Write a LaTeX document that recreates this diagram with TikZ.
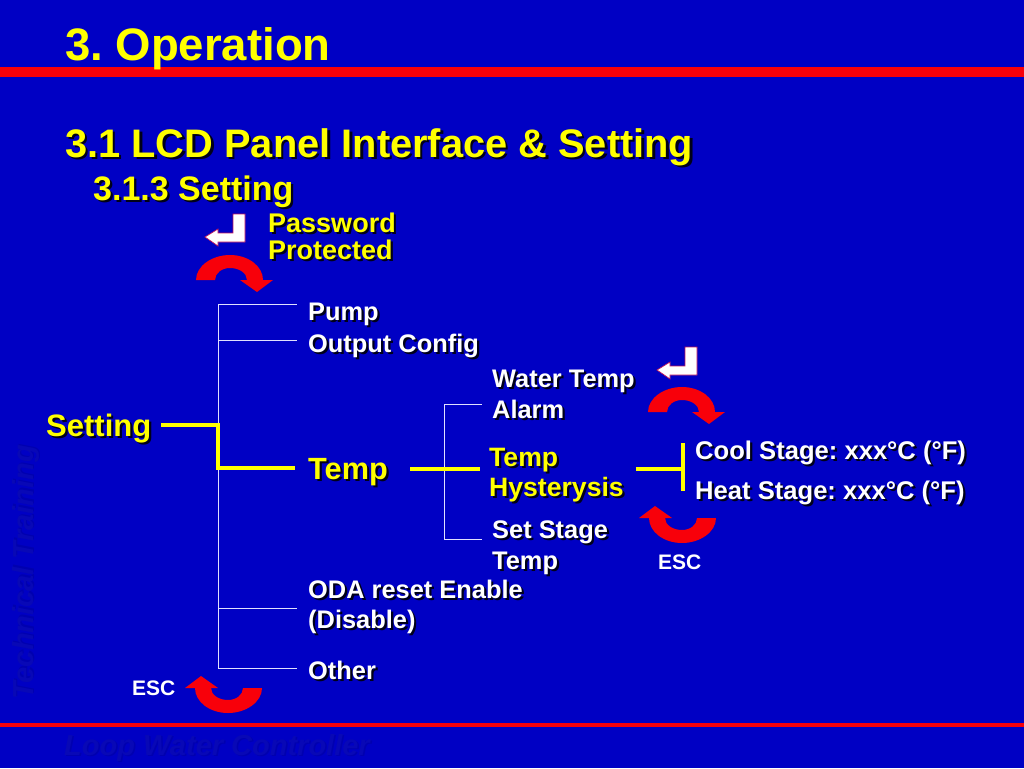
\documentclass[tikz,border=0pt]{standalone}
\usepackage{fontspec}
\setmainfont{Liberation Sans}[BoldFont={Liberation Sans Bold}]
\definecolor{slidebg}{RGB}{0,0,196}
\definecolor{redbar}{RGB}{248,0,10}
\definecolor{ylw}{RGB}{255,255,0}
\definecolor{shdw}{RGB}{0,0,25}
\definecolor{wmk}{RGB}{8,8,182}
\definecolor{wmkd}{RGB}{0,0,176}
\definecolor{retedge}{RGB}{190,20,90}
\newcommand{\shd}[2][2.2pt]{\leavevmode\rlap{\kern#1\raisebox{-#1}{\color{shdw}#2}}#2}
\newcommand{\wm}[1]{\leavevmode\rlap{\kern1.5pt\raisebox{-1.5pt}{\color{wmkd}#1}}#1}
\tikzset{
  txt/.style={anchor=base west,inner sep=0pt,font=\bfseries\fontsize{#1}{#1}\selectfont\frenchspacing},
  wtxt/.style={txt={#1},text=white},
  ytxt/.style={txt={#1},text=ylw},
  wline/.style={draw=white!88!blue,line width=1pt},
  yline/.style={draw=ylw,line width=3.2pt},
  curved/.pic={
    \fill[redbar] (-34,0) .. controls (-34,-14) and (-18,-25) .. (0,-25)
      .. controls (18,-25) and (33,-14) .. (33,0) -- (43,0) -- (27,12) -- (10,0) -- (17,0)
      .. controls (17,-7) and (9,-12) .. (0,-12)
      .. controls (-8,-12) and (-15,-7) .. (-15,0) -- cycle;
  },
  enterarrow/.pic={
    \filldraw[fill=white,draw=retedge,line width=0.7pt] (0,0) -- (-12,0) -- (-12,19) -- (-27,19) -- (-27,15)
      -- (-40,23) -- (-27,32) -- (-27,28) -- (0,28) -- cycle;
  }
}
\begin{document}
\begin{tikzpicture}[x=1pt,y=-1pt]
\fill[slidebg] (0,0) rectangle (1024,768);
\useasboundingbox (0,0) rectangle (1024,768);
\fill[redbar] (0,67) rectangle (1024,77);
\fill[redbar] (0,723) rectangle (1024,727);
% watermarks
\node[rotate=90,anchor=base west,inner sep=0pt,text=wmk,font=\bfseries\itshape\fontsize{29}{29}\selectfont] (wm1) at (33,700) {\wm{Technical Training}};
\node[anchor=base west,inner sep=0pt,text=wmk,font=\bfseries\itshape\fontsize{29}{29}\selectfont] (wm2) at (64,755) {\wm{Loop Water Controller}};
% titles
\node[ytxt=45.5] (t1) at (65,60) {3. Operation};
\node[ytxt=39.8] (t2) at (65,157) {\shd[2.5pt]{3.1 LCD Panel Interface \& Setting}};
\node[ytxt=34] (t3) at (93,200) {\shd{3.1.3 Setting}};
\node[ytxt=27] (pw1) at (268,232) {\shd{Password}};
\node[ytxt=27] (pw2) at (268,259) {\shd{Protected}};
% tree text
\node[ytxt=31] (setting) at (46,436) {\shd{Setting}};
\node[wtxt=25.4] (pump) at (308,320) {\shd{Pump}};
\node[wtxt=25.4] (output) at (308,352) {\shd{Output Config}};
\node[ytxt=30.7] (temp) at (308,479) {\shd{Temp}};
\node[wtxt=25.4] (oda1) at (308,598) {\shd{ODA reset Enable}};
\node[wtxt=25.4] (oda2) at (308,628) {\shd{(Disable)}};
\node[wtxt=25.4] (other) at (308,679) {\shd{Other}};
\node[wtxt=25.4] (water1) at (492,387) {\shd{Water Temp}};
\node[wtxt=25.4] (water2) at (492,418) {\shd{Alarm}};
\node[ytxt=26.6] (hyst1) at (489,466) {\shd{Temp}};
\node[ytxt=26.6] (hyst2) at (489,496) {\shd{Hysterysis}};
\node[wtxt=25.4] (stage1) at (492,538) {\shd{Set Stage}};
\node[wtxt=25.4] (stage2) at (492,569) {\shd{Temp}};
\node[wtxt=25.6] (cool) at (695,459) {\shd{Cool Stage: xxx°C (°F)}};
\node[wtxt=25.6] (heat) at (695,499) {\shd{Heat Stage: xxx°C (°F)}};
\node[wtxt=21] (esc1) at (658,569) {ESC};
\node[wtxt=21] (esc2) at (132,695) {ESC};
% junctions
\coordinate (sa) at (218,304);
\coordinate (sb) at (218,340);
\coordinate (sc) at (218,425);
\coordinate (sd) at (218,468);
\coordinate (se) at (218,608);
\coordinate (sf) at (218,668);
\coordinate (ta) at (444,404);
\coordinate (tb) at (444,469);
\coordinate (tc) at (444,539);
\coordinate (ua) at (683,443);
\coordinate (ub) at (683,469);
\coordinate (uc) at (683,491);
% white tree
\draw[wline] (sa) -- (sf);
\draw[wline] (sa) -- ([xshift=-11pt]pump.west |- sa);
\draw[wline] (sb) -- ([xshift=-11pt]output.west |- sb);
\draw[wline] (se) -- ([xshift=-11pt]oda1.west |- se);
\draw[wline] (sf) -- ([xshift=-11pt]other.west |- sf);
\draw[wline] (ta) -- (tc);
\draw[wline] (ta) -- ([xshift=-10pt]water1.west |- ta);
\draw[wline] (tc) -- ([xshift=-10pt]stage1.west |- tc);
% yellow path
\draw[yline,line join=miter] ([xshift=10pt]setting.east |- sc) -- (sc) -- (sd) -- ([xshift=-13pt]temp.west |- sd);
\draw[yline] ([xshift=22pt]temp.east |- tb) -- ([xshift=-9pt]hyst2.west |- tb);
\draw[yline] ([xshift=12pt]hyst2.east |- ub) -- (ub);
\draw[yline] (ua) -- (uc);
% arrows
\pic at (230,280) {curved};
\pic at (682,412) {curved};
\pic[rotate=180] at (682,518) {curved};
\pic[rotate=180] at (228,688) {curved};
\pic at (245,214) {enterarrow};
\pic at (697,347) {enterarrow};
\end{tikzpicture}
\end{document}
